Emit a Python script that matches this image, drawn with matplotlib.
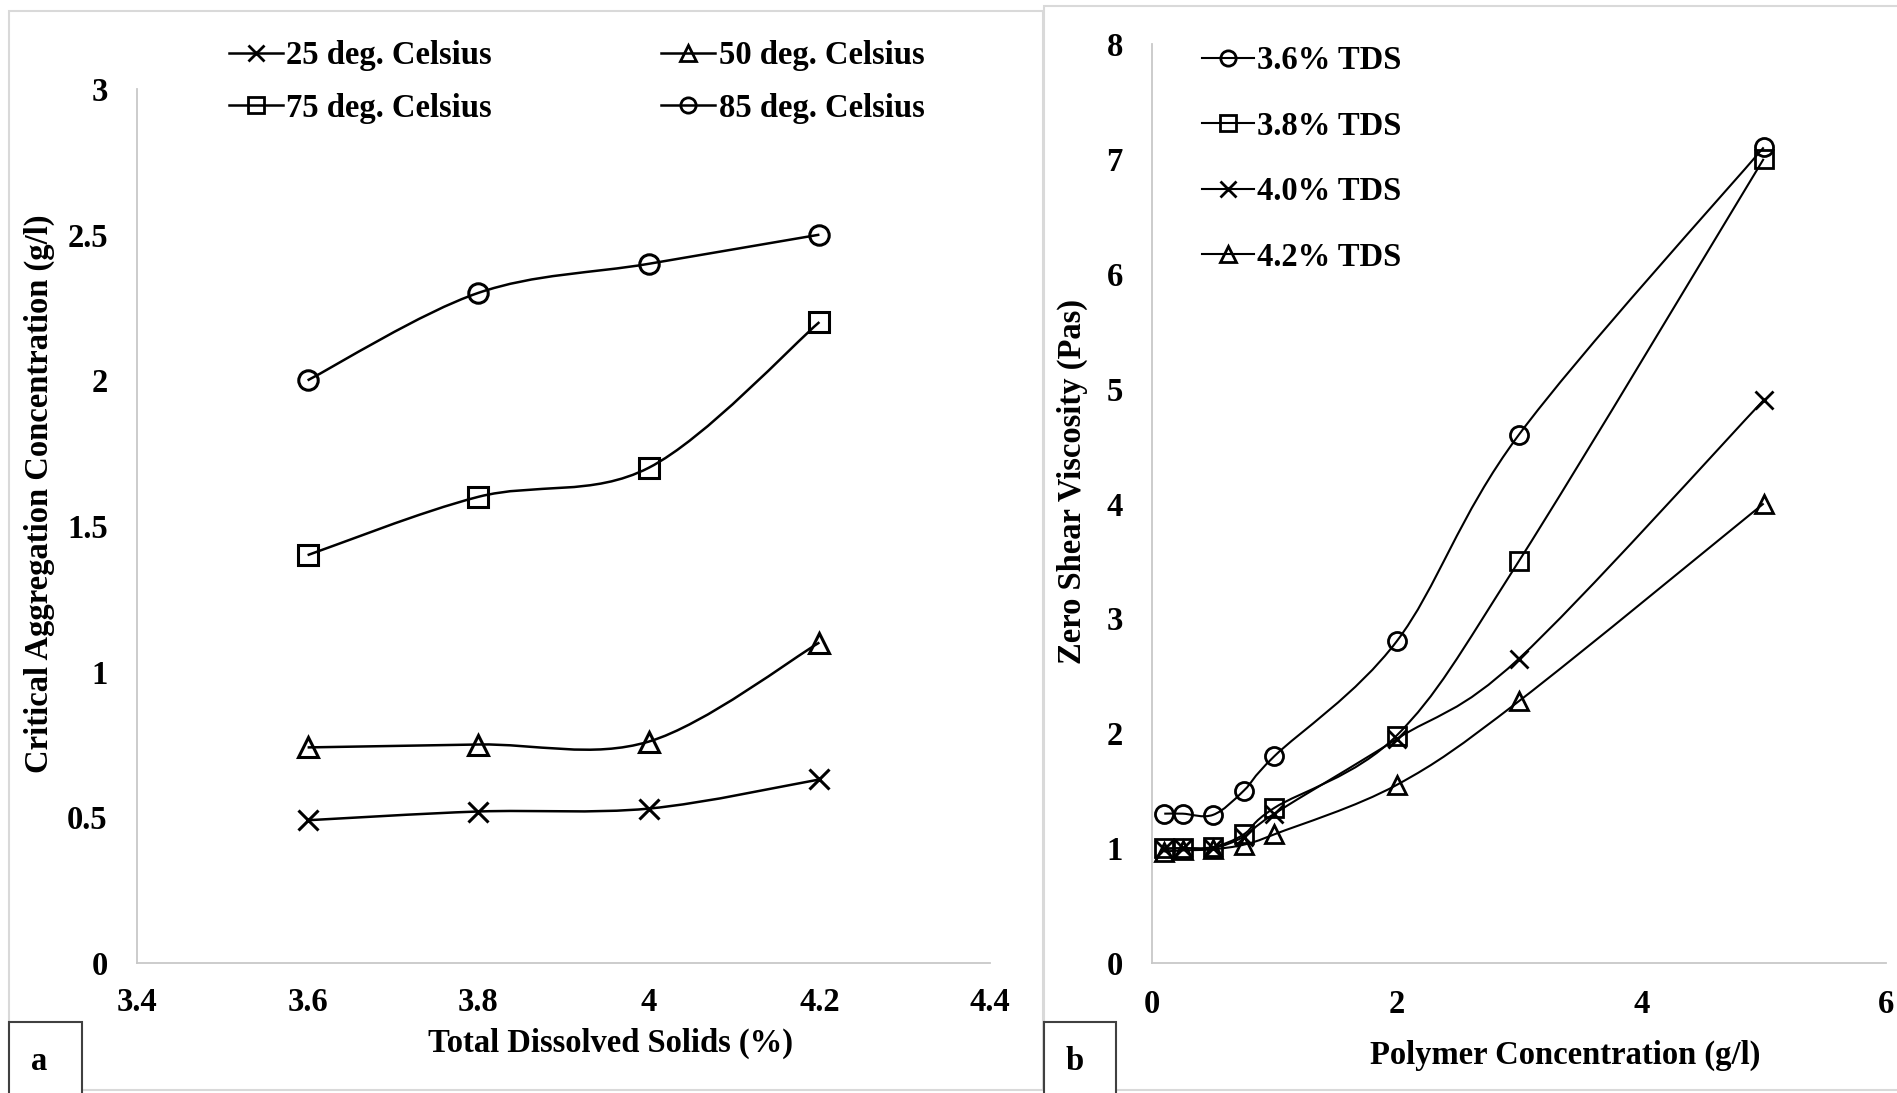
import numpy as np
import matplotlib
matplotlib.use("Agg")
import matplotlib.pyplot as plt
from matplotlib.path import Path
from matplotlib.patches import PathPatch, Rectangle
from matplotlib.lines import Line2D

plt.rcParams["font.family"] = ["Liberation Serif", "DejaVu Serif"]
plt.rcParams["font.weight"] = "bold"

# =========================================================
# DATA
# =========================================================
# panel a: critical aggregation concentration vs TDS
tds = [3.6, 3.8, 4.0, 4.2]
cac_25 = [0.49, 0.52, 0.53, 0.63]
cac_50 = [0.74, 0.75, 0.76, 1.10]
cac_75 = [1.40, 1.60, 1.70, 2.20]
cac_85 = [2.00, 2.30, 2.40, 2.50]
labels_a = ["25 deg. Celsius", "50 deg. Celsius", "75 deg. Celsius", "85 deg. Celsius"]

# panel b: zero shear viscosity vs polymer concentration
conc = [0.1, 0.25, 0.5, 0.75, 1.0, 2.0, 3.0, 5.0]
visc_36 = [1.30, 1.30, 1.29, 1.50, 1.80, 2.80, 4.60, 7.10]
visc_38 = [1.00, 1.00, 1.01, 1.12, 1.35, 1.98, 3.50, 7.00]
visc_40 = [0.99, 1.00, 1.00, 1.10, 1.30, 1.95, 2.65, 4.90]
visc_42 = [0.97, 0.98, 0.99, 1.03, 1.12, 1.55, 2.28, 4.00]
labels_b = ["3.6% TDS", "3.8% TDS", "4.0% TDS", "4.2% TDS"]

xticks_a = [3.4, 3.6, 3.8, 4.0, 4.2, 4.4]
xticklabels_a = ["3.4", "3.6", "3.8", "4", "4.2", "4.4"]
yticks_a = [0, 0.5, 1, 1.5, 2, 2.5, 3]
yticklabels_a = ["0", "0.5", "1", "1.5", "2", "2.5", "3"]
xticks_b = [0, 2, 4, 6]
yticks_b = [0, 1, 2, 3, 4, 5, 6, 7, 8]

W, H = 1897, 1093
FS = 23.5
GRAY = "#c8c8c8"


def fx(px):
    return px / W


def fy(py):
    return 1 - py / H


def smooth_line(ax, x, y, lw):
    # excel-like smoothed line (catmull-rom as cubic bezier)
    x = np.asarray(x, float)
    y = np.asarray(y, float)
    n = len(x)
    verts = [(x[0], y[0])]
    codes = [Path.MOVETO]
    for i in range(n - 1):
        i0 = max(i - 1, 0)
        i3 = min(i + 2, n - 1)
        c1 = (x[i] + (x[i + 1] - x[i0]) / 6, y[i] + (y[i + 1] - y[i0]) / 6)
        c2 = (x[i + 1] - (x[i3] - x[i]) / 6, y[i + 1] - (y[i3] - y[i]) / 6)
        verts += [c1, c2, (x[i + 1], y[i + 1])]
        codes += [Path.CURVE4] * 3
    ax.add_patch(PathPatch(Path(verts, codes), fc="none", ec="black", lw=lw,
                           clip_on=False, zorder=2))


def style_axes(ax):
    for s in ["top", "right"]:
        ax.spines[s].set_visible(False)
    for s in ["left", "bottom"]:
        ax.spines[s].set_color(GRAY)
        ax.spines[s].set_linewidth(1.3)
    ax.tick_params(length=0, labelsize=FS)
    for t in ax.get_xticklabels() + ax.get_yticklabels():
        t.set_fontweight("bold")


fig = plt.figure(figsize=(W / 100, H / 100), dpi=100)

# panel frames
fig.patches.append(Rectangle((fx(9), fy(1090)), fx(1043) - fx(9), fy(11) - fy(1090),
                             transform=fig.transFigure, fc="none", ec="#d9d9d9", lw=1.5))
fig.patches.append(Rectangle((fx(1044), fy(1090)), fx(1900) - fx(1044), fy(6) - fy(1090),
                             transform=fig.transFigure, fc="none", ec="#d9d9d9", lw=1.5))

# =========================================================
# PANEL A
# =========================================================
ax_a = fig.add_axes([fx(137), fy(963), fx(990) - fx(137), fy(89) - fy(963)])
series_a = [(cac_25, "x"), (cac_50, "^"), (cac_75, "s"), (cac_85, "o")]
for vals, mk in series_a:
    smooth_line(ax_a, tds, vals, 1.8)
    ax_a.plot(tds, vals, ls="none", marker=mk, ms=14, mfc="none", mec="black",
              mew=2.2, clip_on=False, zorder=3)
ax_a.set_xlim(3.4, 4.4)
ax_a.set_ylim(0, 3)
ax_a.set_xticks(xticks_a)
ax_a.set_xticklabels(xticklabels_a)
ax_a.set_yticks(yticks_a)
ax_a.set_yticklabels(yticklabels_a)
style_axes(ax_a)
ax_a.tick_params(axis="y", pad=21)
ax_a.tick_params(axis="x", pad=17)

mk_a = ["x", "^", "s", "o"]
handles_a = [Line2D([], [], color="black", lw=1.8, marker=m, ms=11, mfc="none", mew=2)
             for m in mk_a]
order = [0, 2, 1, 3]
ax_a.legend([handles_a[i] for i in order], [labels_a[i] for i in order], ncol=2,
            loc="upper left", bbox_to_anchor=(fx(229), fy(40)),
            bbox_transform=fig.transFigure, frameon=False, fontsize=FS,
            handlelength=1.65, handletextpad=0.1, columnspacing=5.2,
            labelspacing=0.66, borderpad=0, borderaxespad=0)

fig.text(fx(39), fy(494), "Critical Aggregation Concentration (g/l)", rotation=90,
         ha="center", va="center", fontsize=FS, fontweight="bold")
fig.text(fx(610), fy(1043), "Total Dissolved Solids (%)", ha="center", va="center",
         fontsize=FS, fontweight="bold")

# =========================================================
# PANEL B
# =========================================================
ax_b = fig.add_axes([fx(1152), fy(963), fx(1886) - fx(1152), fy(44) - fy(963)])
series_b = [(visc_36, "o"), (visc_38, "s"), (visc_40, "x"), (visc_42, "^")]
for vals, mk in series_b:
    smooth_line(ax_b, conc, vals, 1.5)
    ax_b.plot(conc, vals, ls="none", marker=mk, ms=13, mfc="none", mec="black",
              mew=2, clip_on=False, zorder=3)
ax_b.set_xlim(0, 6)
ax_b.set_ylim(0, 8)
ax_b.set_xticks(xticks_b)
ax_b.set_yticks(yticks_b)
style_axes(ax_b)
ax_b.tick_params(axis="y", pad=21)
ax_b.tick_params(axis="x", pad=19)

mk_b = ["o", "s", "x", "^"]
handles_b = [Line2D([], [], color="black", lw=1.5, marker=m, ms=11, mfc="none", mew=2)
             for m in mk_b]
ax_b.legend(handles_b, labels_b, loc="upper left", bbox_to_anchor=(fx(1202), fy(45)),
            bbox_transform=fig.transFigure, frameon=False, fontsize=FS,
            handlelength=1.6, handletextpad=0.1, labelspacing=1.06,
            borderpad=0, borderaxespad=0)

fig.text(fx(1072), fy(481), "Zero Shear Viscosity (Pas)", rotation=90,
         ha="center", va="center", fontsize=FS, fontweight="bold")
fig.text(fx(1565), fy(1055), "Polymer Concentration (g/l)", ha="center", va="center",
         fontsize=FS, fontweight="bold")

# panel letters
for x0, x1, lx, letter in [(9, 82, 39, "a"), (1044, 1116, 1075, "b")]:
    fig.patches.append(Rectangle((fx(x0), fy(1095)), fx(x1) - fx(x0), fy(1022) - fy(1095),
                                 transform=fig.transFigure, fc="white", ec="#404040", lw=1.5))
    fig.text(fx(lx), fy(1062), letter, ha="center", va="center",
             fontsize=FS, fontweight="bold")

plt.savefig("out.png", dpi=100)
plt.close()
